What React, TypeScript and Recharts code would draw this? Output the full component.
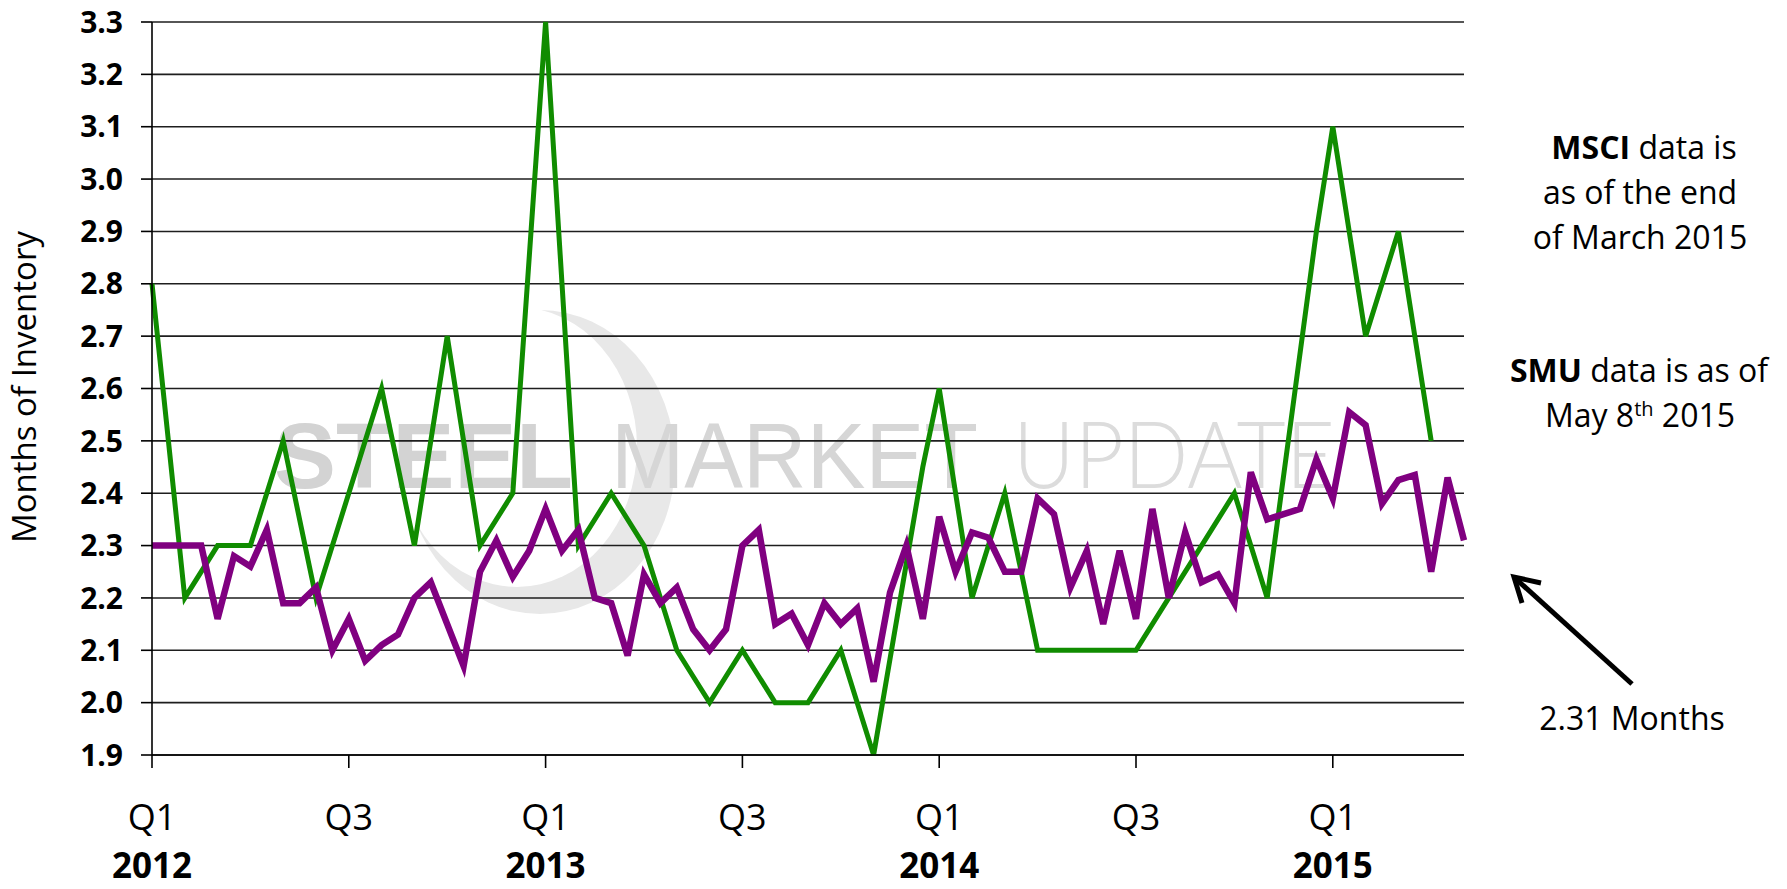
import React from 'react';
import { LineChart, Line, XAxis, YAxis, CartesianGrid } from 'recharts';

// half-month survey points, Jan 2012 (0) .. May 2015 (80)
const smuInventory = [
  2.3, 2.3, 2.3, 2.3, 2.16, 2.28, 2.26, 2.33, 2.19, 2.19,
  2.22, 2.1, 2.16, 2.08, 2.11, 2.13, 2.2, 2.23, 2.15, 2.07,
  2.25, 2.31, 2.24, 2.29, 2.37, 2.29, 2.33, 2.2, 2.19, 2.09,
  2.245, 2.19, 2.22, 2.14, 2.1, 2.14, 2.3, 2.33, 2.15, 2.17,
  2.11, 2.19, 2.15, 2.18, 2.04, 2.21, 2.3, 2.16, 2.355, 2.25,
  2.325, 2.315, 2.25, 2.25, 2.39, 2.36, 2.22, 2.29, 2.15, 2.29,
  2.16, 2.37, 2.2, 2.325, 2.23, 2.245, 2.19, 2.44, 2.35, 2.36,
  2.37, 2.465, 2.39, 2.555, 2.53, 2.38, 2.425, 2.435, 2.25, 2.43,
  2.31,
];

// MSCI readings on the same positions, gaps joined by the line
const msciInventory = [
  2.8, 2.5, 2.2, null, 2.3, null, 2.3, null, 2.5, 2.35,
  2.2, null, 2.4, null, 2.6, null, 2.3, null, 2.7, null,
  2.3, null, 2.4, null, 3.3, null, 2.3, null, 2.4, null,
  2.3, null, 2.1, 2.05, 2.0, null, 2.1, 2.05, 2.0, null,
  2.0, null, 2.1, 2.0, 1.9, null, null, 2.45, 2.6, null,
  2.2, null, 2.4, null, 2.1, null, null, null, null, null,
  2.1, null, 2.2, null, 2.3, 2.35, 2.4, 2.3, 2.2, null,
  null, 2.9, 3.1, null, 2.7, null, 2.9, 2.7, 2.5, null,
  null,
];

const xTicks = [0, 12, 24, 36, 48, 60, 72];
const quarterLabels = ['Q1', 'Q3', 'Q1', 'Q3', 'Q1', 'Q3', 'Q1'];
const yearTicks = [0, 24, 48, 72];
const yearLabels = ['2012', '2013', '2014', '2015'];
const yTicks = [1.9, 2.0, 2.1, 2.2, 2.3, 2.4, 2.5, 2.6, 2.7, 2.8, 2.9, 3.0, 3.1, 3.2, 3.3];

const data = smuInventory.map((smu, i) => ({ i, smu, msci: msciInventory[i] }));

const QuarterTick = (props: any) => {
  const { x, y, payload } = props;
  const k = xTicks.indexOf(payload.value);
  const yk = yearTicks.indexOf(payload.value);
  return (
    <g>
      <text x={x} y={y + 62} textAnchor="middle" fontSize={36} fill="#000">
        {quarterLabels[k]}
      </text>
      {yk >= 0 && (
        <text x={x} y={y + 110} textAnchor="middle" fontSize={35} fontWeight={700} fill="#000">
          {yearLabels[yk]}
        </text>
      )}
    </g>
  );
};

const Watermark = () => (
  <svg width={1787} height={889} style={{ position: 'absolute', left: 0, top: 0 }}>
    <ellipse cx={540} cy={462} rx={135} ry={152} fill="#e8e8e8" />
    <ellipse cx={517} cy={447} rx={120} ry={140} fill="#fff" />
    <text x={274} y={488} fontFamily="'Liberation Sans', Arial, sans-serif" fontWeight={700}
      fontSize={92} textLength={299} lengthAdjust="spacingAndGlyphs" fill="#d3d3d3">STEEL</text>
    <text x={611} y={488} fontFamily="'Liberation Sans', Arial, sans-serif"
      fontSize={92} textLength={367} lengthAdjust="spacingAndGlyphs" fill="#d6d6d6">MARKET</text>
    <text x={1013} y={488} fontFamily="Lato, sans-serif" fontWeight={300}
      fontSize={92} textLength={322} lengthAdjust="spacingAndGlyphs" fill="#dcdcdc">UPDATE</text>
  </svg>
);

const Notes = () => (
  <svg width={1787} height={889} style={{ position: 'absolute', left: 0, top: 0, pointerEvents: 'none' }}>
    <text transform="translate(36, 387) rotate(-90)" textAnchor="middle" fontSize={33} fill="#000">
      Months of Inventory
    </text>
    <g fontSize={32} fill="#000" textAnchor="middle">
      <text x={1644} y={159}><tspan fontWeight={700}>MSCI</tspan> data is</text>
      <text x={1640} y={204}>as of the end</text>
      <text x={1640} y={249}>of March 2015</text>
      <text x={1639} y={382}><tspan fontWeight={700}>SMU</tspan> data is as of</text>
      <text x={1640} y={427}>
        May 8<tspan dy={-11} fontSize={20}>th</tspan><tspan dy={11}> 2015</tspan>
      </text>
      <text x={1632} y={730}>2.31 Months</text>
    </g>
    <line x1={1632} y1={684} x2={1516} y2={579} stroke="#000" strokeWidth={5} />
    <polyline points="1541,583 1514,577 1522,603" fill="none" stroke="#000" strokeWidth={5} />
  </svg>
);

const App: React.FC = () => {
  return (
    <div
      style={{
        position: 'absolute',
        left: 0,
        top: 0,
        width: 1787,
        height: 889,
        background: '#fff',
        fontFamily: "'Open Sans', sans-serif",
      }}
    >
      <Watermark />
      <div style={{ position: 'absolute', left: 0, top: 0 }}>
        <LineChart width={1787} height={889} data={data} margin={{ top: 22, right: 323, bottom: 0, left: 0 }}>
          <CartesianGrid vertical={false} stroke="#1e1e1e" strokeWidth={1.6} />
          <XAxis
            dataKey="i"
            type="number"
            domain={[0, 80]}
            ticks={xTicks}
            interval={0}
            height={134}
            tickSize={13}
            tickMargin={0}
            tick={<QuarterTick />}
            axisLine={{ stroke: '#000', strokeWidth: 1.6 }}
            tickLine={{ stroke: '#000', strokeWidth: 1.6 }}
          />
          <YAxis
            domain={[1.9, 3.3]}
            ticks={yTicks}
            interval={0}
            width={152}
            tickSize={11}
            tickMargin={18}
            tickFormatter={(v: number) => v.toFixed(1)}
            tick={{ fill: '#000', fontSize: 30, fontWeight: 700 }}
            axisLine={{ stroke: '#000', strokeWidth: 1.6 }}
            tickLine={{ stroke: '#000', strokeWidth: 1.6 }}
          />
          <Line
            dataKey="msci"
            stroke="#108c00"
            strokeWidth={5}
            dot={false}
            connectNulls
            isAnimationActive={false}
          />
          <Line
            dataKey="smu"
            stroke="#800080"
            strokeWidth={6.5}
            dot={false}
            isAnimationActive={false}
          />
        </LineChart>
      </div>
      <Notes />
    </div>
  );
};

export default App;
